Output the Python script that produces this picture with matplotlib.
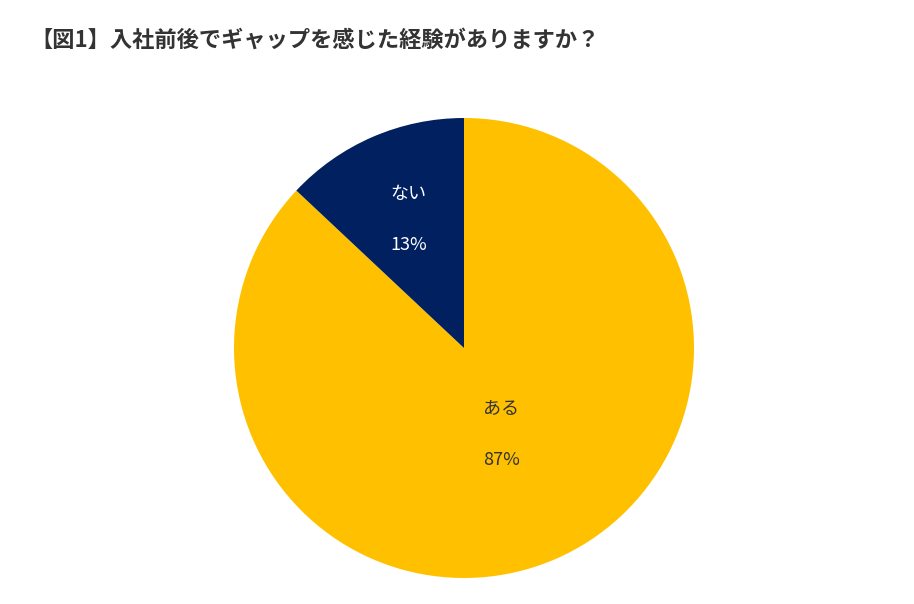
import numpy as np
import matplotlib.pyplot as plt

plt.rcParams['font.family'] = ['Noto Sans CJK JP', 'DejaVu Sans']

labels = ['ある', 'ない']
values = [87, 13]
colors = ['#FFC000', '#002060']
text_colors = ['#333333', 'white']
label_r = [0.41, 0.61]

fig = plt.figure(figsize=(9.14, 6.04), dpi=100)
fig.text(30 / 914, 1 - 40 / 604, '【図1】入社前後でギャップを感じた経験がありますか？',
         fontsize=16, fontweight='bold', color='#333333', va='center', ha='left')

ax = fig.add_axes([(464 - 230) / 914, (604 - 348 - 230) / 604, 460 / 914, 460 / 604])
wedges, _ = ax.pie(values, colors=colors, startangle=90, counterclock=False,
                   wedgeprops=dict(linewidth=0))
for w, lab, v, tc, r in zip(wedges, labels, values, text_colors, label_r):
    ang = np.deg2rad((w.theta1 + w.theta2) / 2)
    x, y = r * np.cos(ang), r * np.sin(ang)
    ax.text(x, y + 0.11, lab, ha='center', va='center', fontsize=13, color=tc)
    ax.text(x, y - 0.11, f'{v}%', ha='center', va='center', fontsize=13, color=tc)
ax.set_xlim(-1, 1)
ax.set_ylim(-1, 1)
ax.set_aspect('equal')

fig.savefig('out.png', dpi=100)
